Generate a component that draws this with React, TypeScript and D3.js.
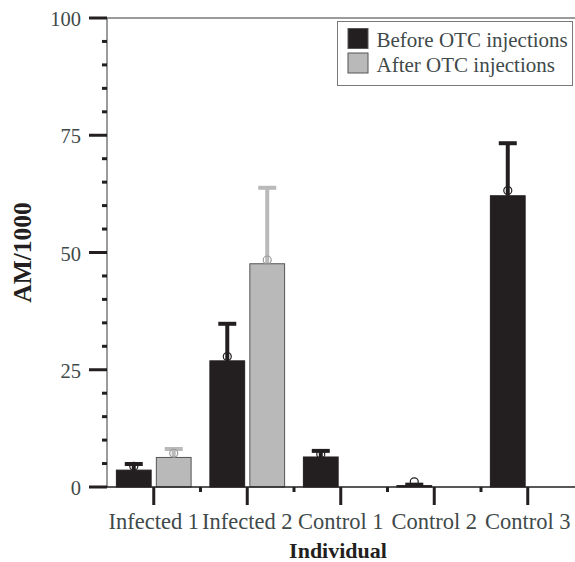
import React from 'react'
import * as d3 from 'd3'

const categories = ['Infected 1', 'Infected 2', 'Control 1', 'Control 2', 'Control 3']
const series = ['Before OTC injections', 'After OTC injections']
// bar heights
const beforeValues = [3.6, 26.9, 6.4, 0.3, 62.1]
const afterValues: (number | null)[] = [6.3, 47.6, null, null, null]
// upper end of the error bars
const beforeUpper = [4.9, 34.8, 7.7, 0.5, 73.3]
const afterUpper: (number | null)[] = [8.1, 63.8, null, null, null]
// open circles
const beforePoints = [4.4, 27.8, 7.0, 1.1, 63.2]
const afterPoints: (number | null)[] = [7.2, 48.4, null, null, null]
const yTicks = [0, 25, 50, 75, 100]

const W = 575
const H = 562
const FONT = '"Liberation Serif", "Times New Roman", serif'
const TXT = '#3f4a4a'
const DARK = '#231f20'
const GREY = '#b9b9b9'

export default function App() {
  const x = d3.scaleBand<string>().domain(categories).range([107, 574.5]).padding(0)
  const inner = d3.scaleBand<string>().domain(['before', 'after'])
    .range([0, x.bandwidth()]).paddingInner(0.13).paddingOuter(0.235)
  const y = d3.scaleLinear().domain([0, 100]).range([487, 18])
  const minor = d3.range(0, 101, 5).filter(v => v % 25 !== 0)
  const bw = inner.bandwidth()

  const groups = [
    { key: 'before', vals: beforeValues as (number | null)[], up: beforeUpper as (number | null)[], pts: beforePoints as (number | null)[], fill: DARK, err: DARK, circ: DARK },
    { key: 'after', vals: afterValues, up: afterUpper, pts: afterPoints, fill: GREY, err: GREY, circ: '#9a9a9a' },
  ]

  return (
    <svg width={W} height={H} style={{ position: 'absolute', left: 0, top: 0, background: '#fff' }} fontFamily={FONT}>
      {/* frame */}
      <line x1={107} x2={W} y1={18} y2={18} stroke="#7a7a7a" strokeWidth={1.5} />
      <line x1={107} x2={107} y1={18} y2={487} stroke="#7a7a7a" strokeWidth={1.5} />

      {/* bars */}
      {groups.map(g => categories.map((c, i) => {
        const v = g.vals[i]
        if (v == null) return null
        const bx = (x(c) as number) + (inner(g.key) as number)
        const cx = bx + bw / 2
        const up = g.up[i]
        const pt = g.pts[i]
        return (
          <g key={g.key + c}>
            {up != null && (
              <g>
                <line x1={cx} x2={cx} y1={y(v)} y2={y(up)} stroke={g.err} strokeWidth={4} />
                <line x1={cx - 9} x2={cx + 9} y1={y(up)} y2={y(up)} stroke={g.err} strokeWidth={4} />
              </g>
            )}
            <rect x={bx} y={y(v)} width={bw} height={y(0) - y(v)} fill={g.fill}
              stroke={g.key === 'before' ? DARK : '#555'} strokeWidth={1} />
            {pt != null && (
              <circle cx={cx} cy={y(pt)} r={4} fill="none" stroke={g.circ} strokeWidth={1.2} />
            )}
          </g>
        )
      }))}

      {/* x axis */}
      <line x1={107} x2={W} y1={487} y2={487} stroke={DARK} strokeWidth={1.5} />
      {categories.map(c => {
        const cx = (x(c) as number) + x.bandwidth() / 2
        return (
          <g key={c}>
            <line x1={cx} x2={cx} y1={487} y2={505} stroke={DARK} strokeWidth={3} />
            <text x={cx} y={529} textAnchor="middle" fontSize={22.5} fill={TXT}>{c}</text>
          </g>
        )
      })}
      {categories.slice(1).map(c => (
        <line key={'m' + c} x1={x(c) as number} x2={x(c) as number} y1={487} y2={492} stroke={DARK} strokeWidth={3} />
      ))}

      {/* y axis */}
      {yTicks.map(t => (
        <g key={t}>
          <line x1={89} x2={107} y1={y(t)} y2={y(t)} stroke={DARK} strokeWidth={3} />
          <text x={81} y={y(t)} dy="0.4em" textAnchor="end" fontSize={20.5} fill={TXT}>{t}</text>
        </g>
      ))}
      {minor.map(t => (
        <line key={'n' + t} x1={102} x2={107} y1={y(t)} y2={y(t)} stroke={DARK} strokeWidth={3} />
      ))}

      {/* titles */}
      <text transform={`translate(31,${y(50)}) rotate(-90)`} textAnchor="middle" fontSize={25.5}
        fontWeight="bold" fill={DARK}>AM/1000</text>
      <text x={338} y={558} textAnchor="middle" fontSize={22} fontWeight="bold" fill={DARK}>Individual</text>

      {/* legend */}
      <rect x={337.5} y={21.5} width={235} height={64} fill="#fff" stroke="#7a7a7a" strokeWidth={1} />
      {series.map((s, i) => (
        <g key={s} transform={`translate(348,${28.5 + i * 24.5})`}>
          <rect x={0} y={0} width={20} height={20} fill={i === 0 ? DARK : GREY} stroke="#555" strokeWidth={1} />
          <text x={28.5} y={18.5} fontSize={21} fill={TXT}>{s}</text>
        </g>
      ))}
    </svg>
  )
}
